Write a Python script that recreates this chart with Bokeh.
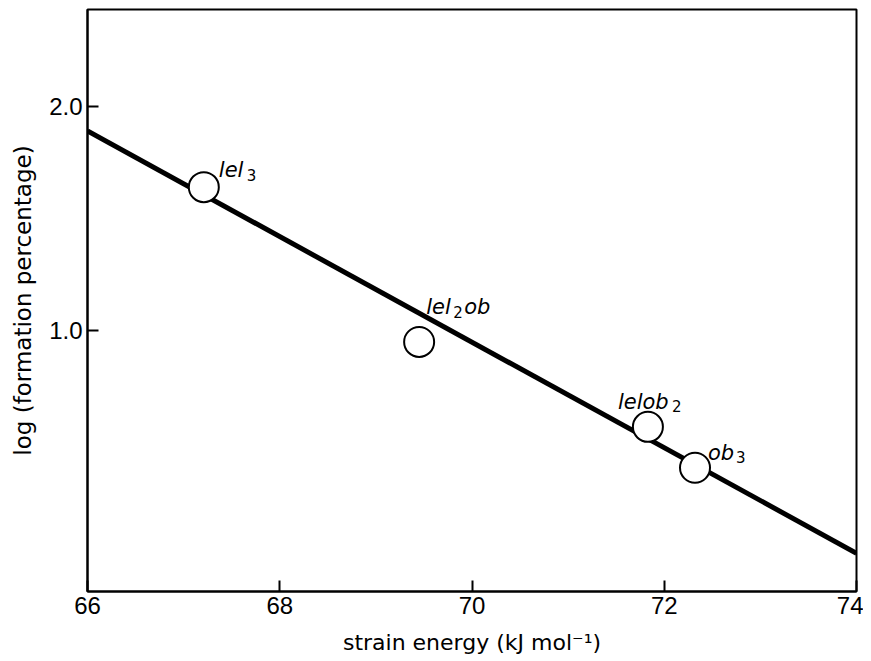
from bokeh.plotting import figure
from bokeh.models import ColumnDataSource, FixedTicker, Range1d
from bokeh.core.properties import value
from bokeh.embed import file_html
from bokeh.resources import INLINE

# ---- data ----
strain_energy = [67.21, 69.45, 71.83, 72.32]
log_formation = [1.64, 0.951, 0.573, 0.391]
label_main = ["lel", "lel", "lelob", "ob"]
label_sub = ["3", "2", "2", "3"]
label_tail = ["", "ob", "", ""]
fit_x = [66.0, 74.0]
fit_y = [1.89, 0.01]
x_ticks = [66, 68, 70, 72, 74]
y_ticks = [1.0, 2.0]
x_title = "strain energy (kJ mol\u207b\u00b9)"
y_title = "log (formation percentage)"

# ---- label placement (screen pixels relative to each point) ----
main_dx = [15, 7, -30, 13]
main_dy = [-17, -35, -25, -15]
sub_dx = [43, 34, 24, 41]
sub_dy = [-12, -30, -21, -11]
tail_dx = [0, 45, 0, 0]
tail_dy = [0, -35, 0, 0]

src = ColumnDataSource(dict(
    x=strain_energy, y=log_formation,
    main=label_main, sub=label_sub, tail=label_tail,
    mdx=main_dx, mdy=main_dy, sdx=sub_dx, sdy=sub_dy, tdx=tail_dx, tdy=tail_dy,
))

p = figure(width=863, height=657,
           x_range=Range1d(66, 74), y_range=Range1d(-0.16, 2.431),
           output_backend="svg", toolbar_location=None,
           min_border_left=87, min_border_right=7, min_border_top=9, min_border_bottom=66)

p.background_fill_color = "white"
p.border_fill_color = "white"
p.outline_line_color = "black"
p.outline_line_width = 2
p.xgrid.visible = False
p.ygrid.visible = False

# fitted line
p.line(fit_x, fit_y, line_color="black", line_width=5)

# points
p.scatter("x", "y", source=src, size=30, marker="circle",
          fill_color="white", line_color="black", line_width=2)

# labels
p.text("x", "y", text="main", source=src, x_offset="mdx", y_offset="mdy",
       text_font=value("DejaVu Sans"), text_font_style="italic",
       text_font_size="21px", text_baseline="alphabetic", text_align="left",
       text_color="black")
p.text("x", "y", text="sub", source=src, x_offset="sdx", y_offset="sdy",
       text_font=value("DejaVu Sans"), text_font_size="15px",
       text_baseline="alphabetic", text_align="left", text_color="black")
p.text("x", "y", text="tail", source=src, x_offset="tdx", y_offset="tdy",
       text_font=value("DejaVu Sans"), text_font_style="italic",
       text_font_size="21px", text_baseline="alphabetic", text_align="left",
       text_color="black")

# axes
for ax in (p.xaxis[0], p.yaxis[0]):
    ax.axis_line_color = "black"
    ax.axis_line_width = 2
    ax.major_tick_line_color = "black"
    ax.major_tick_line_width = 2
    ax.major_tick_in = 11
    ax.major_tick_out = 0
    ax.minor_tick_line_color = None
    ax.major_label_text_font = "Liberation Sans"
    ax.major_label_text_font_size = "24px"
    ax.major_label_text_color = "black"
    ax.axis_label_text_font = "DejaVu Sans"
    ax.axis_label_text_font_size = "23px"
    ax.axis_label_text_font_style = "normal"
    ax.axis_label_text_color = "black"

p.xaxis[0].ticker = FixedTicker(ticks=x_ticks)
p.yaxis[0].ticker = FixedTicker(ticks=y_ticks)
p.xaxis[0].major_label_overrides = {t: str(t) for t in x_ticks}
p.yaxis[0].major_label_overrides = {t: f"{t:.1f}" for t in y_ticks}
p.xaxis[0].major_label_standoff = 5
p.yaxis[0].major_label_standoff = 5
p.xaxis[0].axis_label = x_title
p.xaxis[0].axis_label_text_font_size = "22px"
p.xaxis[0].axis_label_standoff = 13
p.yaxis[0].axis_label = y_title
p.yaxis[0].axis_label_standoff = 10

open("out.html", "w").write(file_html(p, INLINE))
